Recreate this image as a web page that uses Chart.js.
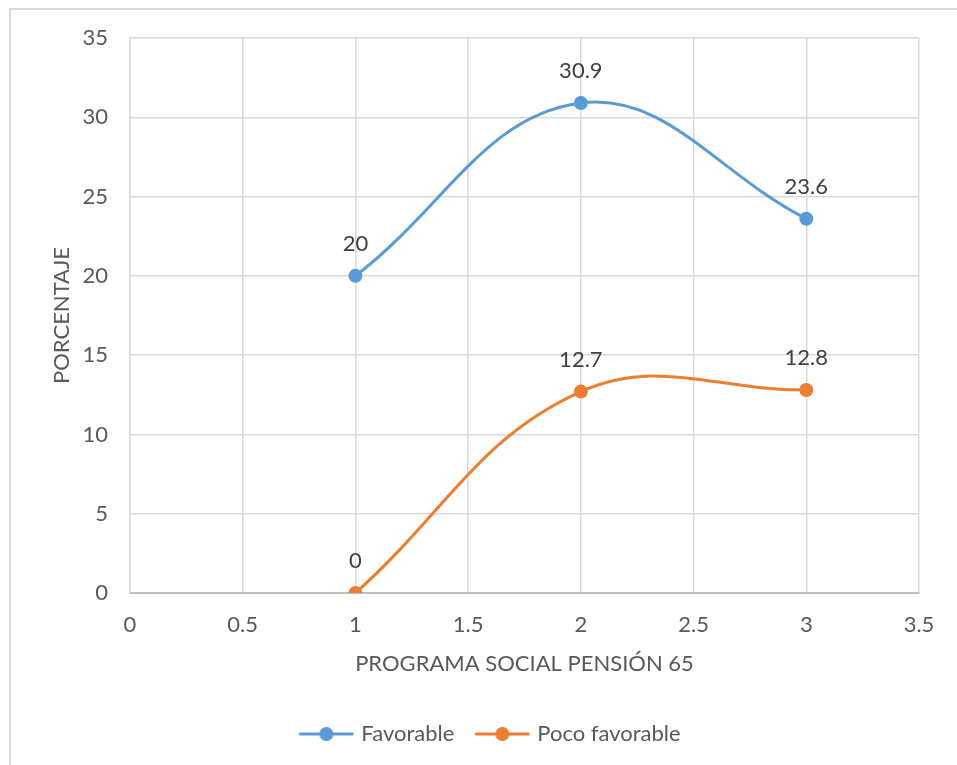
<!DOCTYPE html>
<html>
<head>
<meta charset="utf-8">
<script src="https://cdn.jsdelivr.net/npm/chart.js@4/dist/chart.umd.min.js"></script>
<style>
  html, body { margin: 0; padding: 0; background: #ffffff; }
  #wrap { position: relative; width: 957px; height: 765px; overflow: hidden; }
  #frame { position: absolute; left: 9px; top: 8px; width: 1000px; height: 800px;
           border: 2px solid #d9d9d9; box-sizing: border-box; }
  canvas { position: absolute; left: 0; top: 0; }
</style>
</head>
<body>
<div id="wrap">
  <div id="frame"></div>
  <canvas id="c" width="957" height="765"></canvas>
</div>
<script>
// Program stage (x) and percentage values for each opinion group
const xValues = [1, 2, 3];
const favorable = [20, 30.9, 23.6];
const pocoFavorable = [0, 12.7, 12.8];
const seriesNames = ['Favorable', 'Poco favorable'];
const xTicks = [0, 0.5, 1, 1.5, 2, 2.5, 3, 3.5];
const yTicks = [0, 5, 10, 15, 20, 25, 30, 35];

const BLUE = '#5b9bd5';
const ORANGE = '#ed7d31';
const FONT = 'Lato, "Open Sans", sans-serif';
const FS = 22;
const TEXT = '#595959';

// legend marker: short line with a dot in the middle
function legendMarker(color) {
  const cv = document.createElement('canvas');
  cv.width = 56; cv.height = 16;
  const g = cv.getContext('2d');
  g.strokeStyle = color; g.lineWidth = 3; g.lineCap = 'round';
  g.beginPath(); g.moveTo(2, 8); g.lineTo(54, 8); g.stroke();
  g.fillStyle = color;
  g.beginPath(); g.arc(28, 8, 7, 0, Math.PI * 2); g.fill();
  return cv;
}

function pts(ys) { return xValues.map((x, i) => ({ x: x, y: ys[i] })); }

// value labels above each point
const valueLabels = {
  id: 'valueLabels',
  afterDatasetsDraw(chart) {
    const ctx = chart.ctx;
    ctx.save();
    ctx.font = FS + 'px ' + FONT;
    ctx.fillStyle = '#404040';
    ctx.textAlign = 'center';
    ctx.textBaseline = 'middle';
    chart.data.datasets.forEach((ds, di) => {
      chart.getDatasetMeta(di).data.forEach((el, i) => {
        ctx.fillText(String(ds.data[i].y), el.x, el.y - 32);
      });
    });
    ctx.restore();
  }
};

// nudge the legend box so it sits centred under the plot area
const legendShift = {
  id: 'legendShift',
  afterLayout(chart) {
    const lg = chart.legend;
    if (!lg) return;
    lg.left += 32; lg.right += 32;
    lg.top += 6; lg.bottom += 6;
  }
};

new Chart(document.getElementById('c'), {
  type: 'scatter',
  data: {
    datasets: [
      { label: seriesNames[0], data: pts(favorable), showLine: true, borderColor: BLUE,
        backgroundColor: BLUE, borderWidth: 3, pointRadius: 7, pointHoverRadius: 7,
        pointBorderWidth: 0, tension: 0.4, pointStyle: 'circle' },
      { label: seriesNames[1], data: pts(pocoFavorable), showLine: true, borderColor: ORANGE,
        backgroundColor: ORANGE, borderWidth: 3, pointRadius: 7, pointHoverRadius: 7,
        pointBorderWidth: 0, tension: 0.4, pointStyle: 'circle' }
    ]
  },
  options: {
    responsive: false,
    animation: false,
    layout: { padding: { left: 0, top: 38, right: 38, bottom: 16 } },
    plugins: {
      tooltip: { enabled: false },
      legend: {
        position: 'bottom',
        labels: {
          usePointStyle: true,
          pointStyleWidth: 48,
          color: TEXT,
          font: { family: FONT, size: FS },
          padding: 24,
          generateLabels(chart) {
            return chart.data.datasets.map((ds, i) => ({
              text: ds.label,
              pointStyle: legendMarker(ds.borderColor),
              fillStyle: ds.borderColor,
              strokeStyle: ds.borderColor,
              fontColor: TEXT,
              lineWidth: 0,
              hidden: false,
              datasetIndex: i
            }));
          }
        }
      }
    },
    scales: {
      x: {
        type: 'linear', min: 0, max: 3.5,
        afterBuildTicks(scale) { scale.ticks = xTicks.map(v => ({ value: v })); },
        afterFit(scale) { scale.height = 100; },
        grid: { color: '#d9d9d9', lineWidth: 1.5, drawTicks: false },
        border: { color: '#bfbfbf', width: 2 },
        ticks: { color: TEXT, font: { family: FONT, size: FS }, padding: 19,
                 callback: v => String(v) },
        title: { display: true, text: 'PROGRAMA SOCIAL PENSIÓN 65', color: TEXT,
                 font: { family: FONT, size: FS }, padding: { top: 0, bottom: 16 } }
      },
      y: {
        type: 'linear', min: 0, max: 35,
        afterBuildTicks(scale) { scale.ticks = yTicks.map(v => ({ value: v })); },
        afterFit(scale) { scale.width = 130; },
        grid: { color: '#d9d9d9', lineWidth: 1.5, drawTicks: false },
        border: { color: '#d9d9d9', width: 1.5 },
        ticks: { color: TEXT, font: { family: FONT, size: FS }, padding: 22,
                 callback: v => String(v) },
        title: { display: true, text: 'PORCENTAJE', color: TEXT,
                 font: { family: FONT, size: FS }, padding: { top: 49, bottom: 0 } }
      }
    }
  },
  plugins: [valueLabels, legendShift]
});
</script>
</body>
</html>
